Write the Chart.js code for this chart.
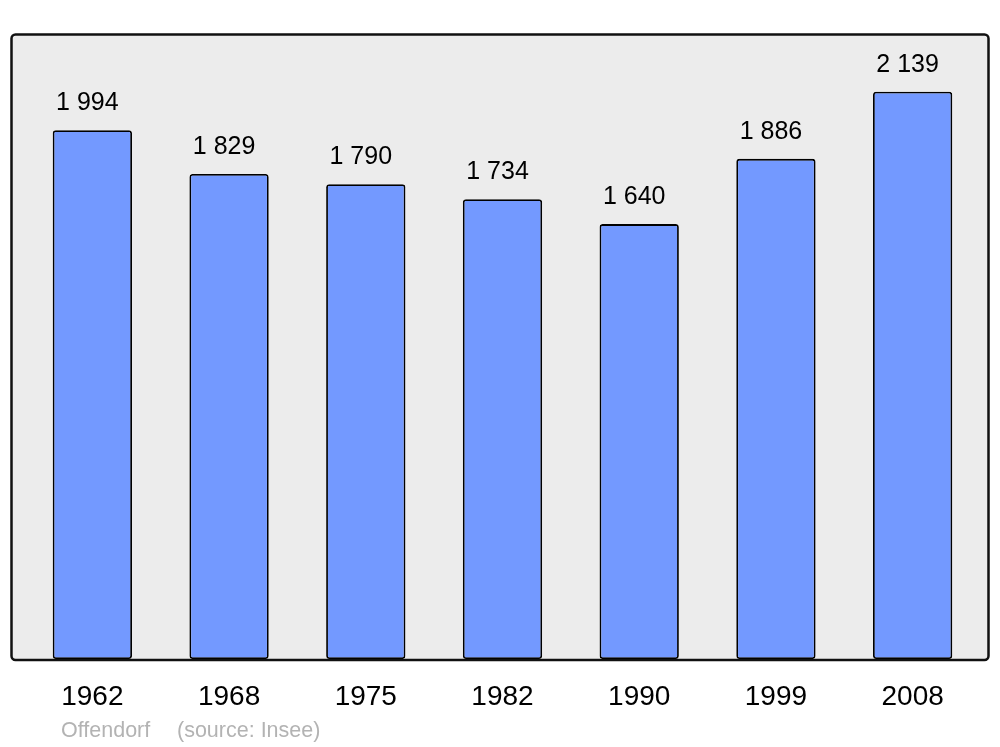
<!DOCTYPE html>
<html>
<head>
<meta charset="utf-8">
<script src="https://cdn.jsdelivr.net/npm/chart.js@4.4.1/dist/chart.umd.min.js"></script>
<style>
  html, body { margin: 0; padding: 0; background: #ffffff; }
  #wrap { width: 1000px; height: 747px; }
</style>
</head>
<body>
<div id="wrap"><canvas id="c" width="1000" height="747"></canvas></div>
<script>
const years = ['1962', '1968', '1975', '1982', '1990', '1999', '2008'];
const population = [1994, 1829, 1790, 1734, 1640, 1886, 2139];
const valueLabels = ['1 994', '1 829', '1 790', '1 734', '1 640', '1 886', '2 139'];
const commune = 'Offendorf';
const sourceText = '(source: Insee)';

const FONT = '"Liberation Sans", Arial, sans-serif';

const framePlugin = {
  id: 'frame',
  beforeDatasetsDraw(chart) {
    const { ctx, chartArea: a } = chart;
    const x0 = a.left - 12.5, x1 = a.right + 7.5, y0 = a.top - 0.5, y1 = a.bottom + 1;
    ctx.save();
    ctx.beginPath();
    ctx.roundRect(x0, y0, x1 - x0, y1 - y0, 4);
    ctx.fillStyle = '#ececec';
    ctx.fill();
    ctx.lineWidth = 2.5;
    ctx.strokeStyle = '#111111';
    ctx.stroke();
    ctx.restore();
  },
  afterDatasetsDraw(chart) {
    const { ctx } = chart;
    const meta = chart.getDatasetMeta(0);
    ctx.save();
    ctx.font = '25px ' + FONT;
    ctx.fillStyle = '#000000';
    ctx.textAlign = 'center';
    ctx.textBaseline = 'middle';
    meta.data.forEach((bar, i) => {
      ctx.fillText(valueLabels[i], bar.x - 5, bar.y - 27);
    });
    ctx.font = '21.5px ' + FONT;
    ctx.fillStyle = '#b3b3b3';
    ctx.textAlign = 'left';
    ctx.textBaseline = 'alphabetic';
    ctx.fillText(commune, 61, 737);
    ctx.fillText(sourceText, 177, 737);
    ctx.restore();
  }
};

new Chart(document.getElementById('c'), {
  type: 'bar',
  data: {
    labels: years,
    datasets: [{
      data: population,
      backgroundColor: '#7399ff',
      borderColor: '#000000',
      borderWidth: 1.8,
      borderRadius: 3,
      borderSkipped: false,
      barPercentage: 0.58,
      categoryPercentage: 1.0
    }]
  },
  options: {
    responsive: false,
    animation: false,
    devicePixelRatio: 1,
    layout: { padding: { left: 24, right: 19, top: 35, bottom: 0 } },
    plugins: { legend: { display: false }, tooltip: { enabled: false } },
    scales: {
      x: {
        grid: { display: false, drawTicks: false },
        border: { display: false },
        ticks: { color: '#000000', font: { family: FONT, size: 28 }, padding: 21, maxRotation: 0 },
        afterFit(scale) { scale.height = 88; }
      },
      y: {
        display: false,
        min: 0,
        max: 2353
      }
    }
  },
  plugins: [framePlugin]
});
</script>
</body>
</html>
